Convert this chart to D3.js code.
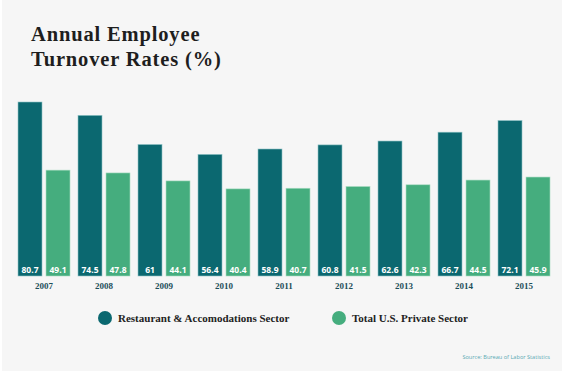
<!DOCTYPE html>
<meta charset="utf-8">
<style>
body {
  margin: 0;
  padding: 0;
  background: #fff;
}
.title {
  font-family: "Liberation Serif", serif;
  font-weight: bold;
  font-size: 20.5px;
  letter-spacing: 0.85px;
  fill: #1e1e1e;
}
.value {
  font-family: "Open Sans", sans-serif;
  font-weight: bold;
  font-size: 8.5px;
  fill: #fff;
  text-anchor: middle;
}
.year {
  font-family: "Liberation Serif", serif;
  font-weight: bold;
  font-size: 9px;
  fill: #1d4f5a;
  text-anchor: middle;
}
.legend {
  font-family: "Liberation Serif", serif;
  font-weight: bold;
  font-size: 11px;
  fill: #222;
}
.source {
  font-family: "Open Sans", sans-serif;
  font-size: 5.6px;
  fill: #5aa9b4;
  text-anchor: end;
}
</style>
<body>
<script src="https://cdn.jsdelivr.net/npm/d3@7"></script>
<script>
var years = ["2007", "2008", "2009", "2010", "2011", "2012", "2013", "2014", "2015"];
var restaurant = [80.7, 74.5, 61, 56.4, 58.9, 60.8, 62.6, 66.7, 72.1];
var privateSector = [49.1, 47.8, 44.1, 40.4, 40.7, 41.5, 42.3, 44.5, 45.9];
var seriesNames = ["Restaurant & Accomodations Sector", "Total U.S. Private Sector"];
var colors = ["#0b6870", "#45ad7e"];

var width = 562,
    height = 373;

var svg = d3.select("body").append("svg")
    .attr("width", width)
    .attr("height", height);

svg.append("rect")
    .attr("x", 2)
    .attr("width", width - 2)
    .attr("height", height - 2)
    .attr("fill", "#f6f6f6");

svg.append("text").attr("class", "title").attr("x", 31).attr("y", 41).text("Annual Employee");
svg.append("text").attr("class", "title").attr("x", 31).attr("y", 66).text("Turnover Rates (%)");

// groups are 60px apart, each 52px wide (two 24px bars, 4px gap)
var x0 = d3.scaleBand()
    .domain(years)
    .range([18, 550])
    .paddingInner(8 / 60)
    .paddingOuter(0);

var x1 = d3.scaleBand()
    .domain([0, 1])
    .range([0, x0.bandwidth()])
    .paddingInner(4 / 28)
    .paddingOuter(0);

var y = d3.scaleLinear()
    .domain([0, 80.7])
    .range([276, 102]);

var rows = years.map(function(yr, i) {
  return {year: yr, values: [restaurant[i], privateSector[i]]};
});

var group = svg.selectAll(".group")
    .data(rows)
  .enter().append("g")
    .attr("class", "group")
    .attr("transform", function(d) { return "translate(" + x0(d.year) + ",0)"; });

var bar = group.selectAll(".bar")
    .data(function(d) { return d.values.map(function(v, k) { return {k: k, v: v}; }); })
  .enter();

bar.append("rect")
    .attr("x", function(d) { return x1(d.k); })
    .attr("y", function(d) { return y(d.v); })
    .attr("width", x1.bandwidth())
    .attr("height", function(d) { return y(0) - y(d.v); })
    .attr("fill", function(d) { return colors[d.k]; })
    .attr("stroke", function(d) { return d.k == 0 ? "#8fc3c6" : "#a9dcc2"; })
    .attr("stroke-width", 0.6);

bar.append("text")
    .attr("class", "value")
    .attr("x", function(d) { return x1(d.k) + x1.bandwidth() / 2; })
    .attr("y", 273)
    .text(function(d) { return d.v; });

group.append("text")
    .attr("class", "year")
    .attr("x", x0.bandwidth() / 2)
    .attr("y", 289)
    .text(function(d) { return d.year; });

var legendX = [105, 339];
var legend = svg.selectAll(".leg")
    .data(seriesNames)
  .enter().append("g")
    .attr("transform", function(d, i) { return "translate(" + legendX[i] + ",318)"; });

legend.append("circle")
    .attr("r", 7)
    .attr("fill", function(d, i) { return colors[i]; });

legend.append("text")
    .attr("class", "legend")
    .attr("x", 13)
    .attr("y", 4)
    .text(function(d) { return d; });

svg.append("text")
    .attr("class", "source")
    .attr("x", 550)
    .attr("y", 359)
    .text("Source: Bureau of Labor Statistics");
</script>
</body>
